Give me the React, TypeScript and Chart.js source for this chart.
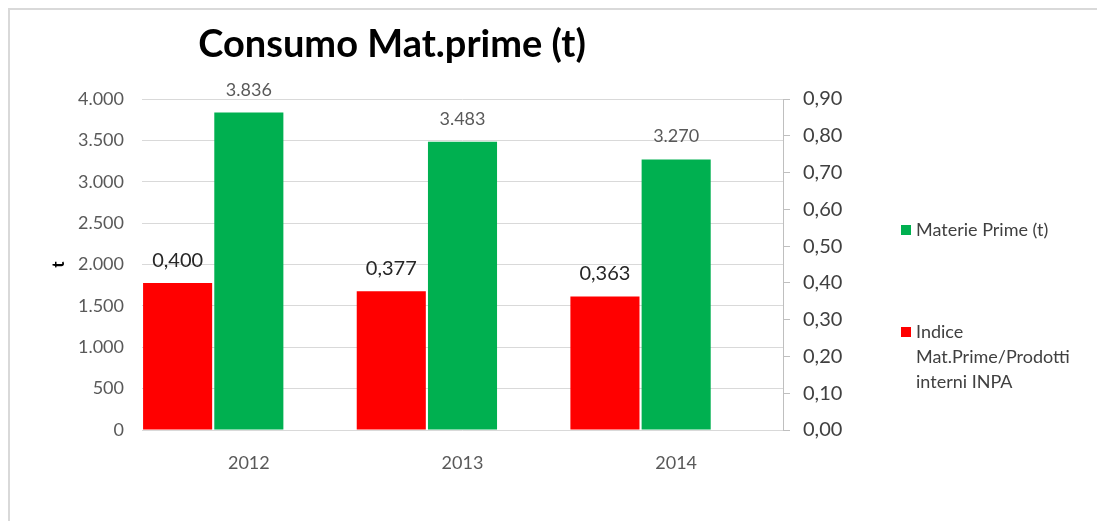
import React, { useEffect, useRef } from 'react';
import { Chart, registerables } from 'chart.js';

Chart.register(...registerables);

// ---- data ----
const years: string[] = ['2012', '2013', '2014'];
const materiePrime: number[] = [3836, 3483, 3270];
const indiceMatPrime: number[] = [0.4, 0.377, 0.363];
const spacer: (number | null)[] = [null, null, null];

const titleText = 'Consumo Mat.prime (t)';
const leftAxisTitle = 't';
const greenLabel = 'Materie Prime (t)';
const redLabel = 'Indice Mat.Prime/Prodotti interni INPA';

const leftMin = 0;
const leftMax = 4000;
const leftStep = 500;
const rightMin = 0;
const rightMax = 0.9;
const rightStep = 0.1;

const GREEN = '#00B050';
const RED = '#FF0000';
const FONT = 'Lato';

const fmtThousands = (v: number) =>
  Math.round(v).toString().replace(/\B(?=(\d{3})+(?!\d))/g, '.');
const fmtDec = (v: number, d: number) => v.toFixed(d).replace('.', ',');

const wrapText = (ctx: CanvasRenderingContext2D, text: string, maxW: number) => {
  const words = text.split(' ');
  const lines: string[] = [];
  let cur = '';
  for (const w of words) {
    const test = cur ? cur + ' ' + w : w;
    if (cur && ctx.measureText(test).width > maxW) {
      lines.push(cur);
      cur = w;
    } else {
      cur = test;
    }
  }
  if (cur) lines.push(cur);
  return lines;
};

const titlePlugin = {
  id: 'customTitle',
  afterDraw(chart: any) {
    const { ctx } = chart;
    ctx.save();
    ctx.font = `bold 38px ${FONT}`;
    ctx.fillStyle = '#000000';
    ctx.textAlign = 'center';
    ctx.textBaseline = 'alphabetic';
    ctx.fillText(titleText, 382, 47);
    ctx.restore();
  },
};

const valueLabelPlugin = {
  id: 'valueLabels',
  afterDatasetsDraw(chart: any) {
    const { ctx } = chart;
    ctx.save();
    ctx.textAlign = 'center';
    ctx.textBaseline = 'alphabetic';
    chart.data.datasets.forEach((ds: any, i: number) => {
      if (!ds.showValues) return;
      const meta = chart.getDatasetMeta(i);
      meta.data.forEach((el: any, j: number) => {
        const v = ds.data[j];
        if (v == null) return;
        const isIndex = ds.yAxisID === 'y1';
        const txt = isIndex ? fmtDec(v, 3) : fmtThousands(v);
        ctx.font = isIndex ? `20px ${FONT}` : `18px ${FONT}`;
        ctx.fillStyle = isIndex ? '#262626' : '#595959';
        ctx.fillText(txt, el.x, el.y - (isIndex ? 16 : 17));
      });
    });
    ctx.restore();
  },
};

const legendPlugin = {
  id: 'customLegend',
  afterDraw(chart: any) {
    const { ctx } = chart;
    ctx.save();
    ctx.font = `18px ${FONT}`;
    ctx.textAlign = 'left';
    ctx.textBaseline = 'middle';
    const items = chart.data.datasets
      .filter((ds: any) => ds.inLegend)
      .sort((a: any, b: any) => a.legendOrder - b.legendOrder);
    const startY = [220, 322];
    items.forEach((ds: any, k: number) => {
      const y = startY[k];
      ctx.fillStyle = ds.backgroundColor;
      ctx.fillRect(891, y - 5, 10, 10);
      ctx.fillStyle = '#404040';
      const lines = wrapText(ctx, ds.label, 172);
      lines.forEach((ln, li) => ctx.fillText(ln, 906, y + li * 25));
    });
    ctx.restore();
  },
};

export default function App() {
  const canvasRef = useRef<HTMLCanvasElement | null>(null);

  useEffect(() => {
    if (!canvasRef.current) return;
    Chart.defaults.font.family = FONT;
    const chart = new Chart(canvasRef.current, {
      type: 'bar',
      data: {
        labels: years,
        datasets: [
          {
            label: redLabel,
            data: indiceMatPrime,
            backgroundColor: RED,
            yAxisID: 'y1',
            showValues: true,
            inLegend: true,
            legendOrder: 2,
          } as any,
          {
            label: greenLabel,
            data: materiePrime,
            backgroundColor: GREEN,
            yAxisID: 'y',
            showValues: true,
            inLegend: true,
            legendOrder: 1,
          } as any,
          {
            label: '',
            data: spacer,
            backgroundColor: 'rgba(0,0,0,0)',
            yAxisID: 'y',
          } as any,
        ],
      },
      options: {
        responsive: false,
        animation: false,
        datasets: {
          bar: { categoryPercentage: 1, barPercentage: 0.97 },
        },
        layout: { padding: { left: 36, top: 89, right: 242, bottom: 31 } },
        plugins: {
          legend: { display: false },
          title: { display: false },
          tooltip: { enabled: false },
        },
        scales: {
          x: {
            grid: { display: false },
            border: { display: false },
            ticks: { color: '#595959', font: { size: 18, family: FONT }, padding: 14 },
            afterFit: (s: any) => { s.height = 60; },
          },
          y: {
            position: 'left',
            min: leftMin,
            max: leftMax,
            ticks: {
              stepSize: leftStep,
              color: '#595959',
              font: { size: 18, family: FONT },
              padding: 18,
              callback: (v: any) => fmtThousands(Number(v)),
            },
            grid: { color: '#d9d9d9', drawTicks: false, lineWidth: 1 },
            border: { display: false },
            title: {
              display: true,
              text: leftAxisTitle,
              color: '#000000',
              font: { size: 17, weight: 'bold', family: FONT },
              padding: { top: 2, bottom: 4 },
            },
            afterFit: (s: any) => { s.width = 96; },
          },
          y1: {
            position: 'right',
            min: rightMin,
            max: rightMax,
            ticks: {
              stepSize: rightStep,
              color: '#404040',
              font: { size: 20, family: FONT },
              padding: 13,
              callback: (v: any) => fmtDec(Number(v), 2),
            },
            grid: { drawOnChartArea: false, drawTicks: true, tickLength: 7, color: '#bfbfbf' },
            border: { display: true, color: '#bfbfbf', width: 1 },
            afterFit: (s: any) => { s.width = 80; },
          },
        },
      } as any,
      plugins: [titlePlugin, valueLabelPlugin, legendPlugin],
    });
    return () => chart.destroy();
  }, []);

  return (
    <div
      style={{
        width: 1097,
        height: 513,
        boxSizing: 'border-box',
        borderTop: '2px solid #d9d9d9',
        borderLeft: '2px solid #d9d9d9',
        background: '#ffffff',
      }}
    >
      <canvas ref={canvasRef} width={1095} height={511} style={{ display: 'block' }} />
    </div>
  );
}
